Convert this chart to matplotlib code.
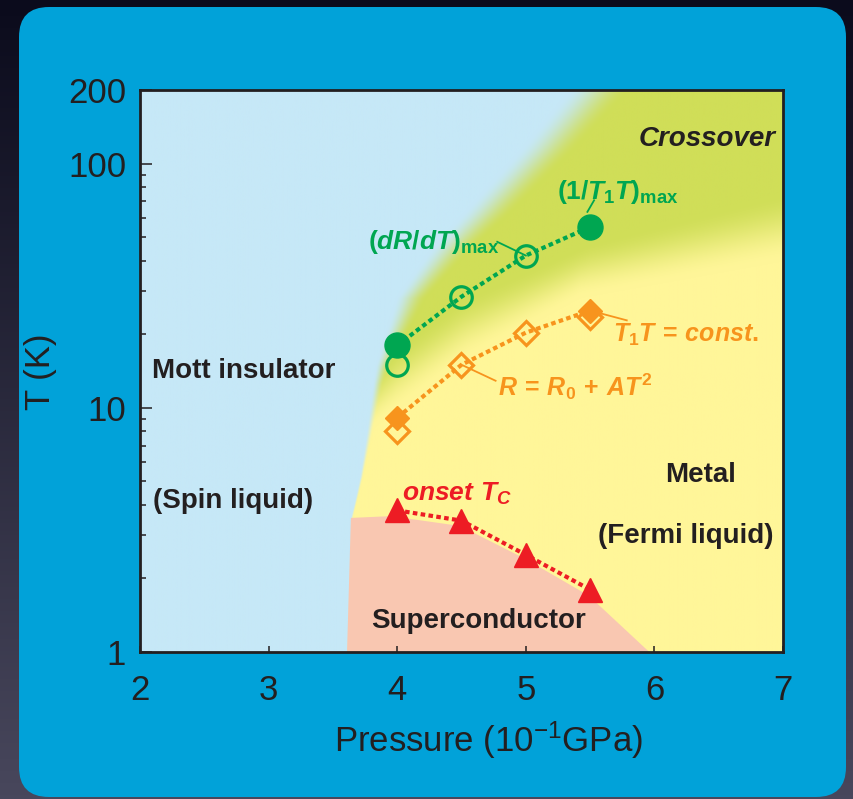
import numpy as np
import matplotlib
matplotlib.use("Agg")
import matplotlib.pyplot as plt
from matplotlib.patches import FancyBboxPatch
from matplotlib.colors import to_rgb
from matplotlib.ticker import FixedLocator, NullFormatter

plt.rcParams['font.family'] = ['Liberation Sans', 'DejaVu Sans']
plt.rcParams['mathtext.fontset'] = 'custom'
plt.rcParams['mathtext.rm'] = 'Liberation Sans:bold'
plt.rcParams['mathtext.it'] = 'Liberation Sans:italic:bold'
plt.rcParams['mathtext.bf'] = 'Liberation Sans:bold'

# measured points (pressure in 10^-1 GPa, T in K)
p_nmr = [4.0, 5.5]            # (1/T1T)max, filled circles
T_nmr = [18, 55]
p_dRdT = [4.0, 4.5, 5.0]      # (dR/dT)max, open circles
T_dRdT = [15, 28.5, 42]
p_t1t = [4.0, 5.5]            # T1T = const., filled diamonds
T_t1t = [9.1, 25]
p_fl = [4.0, 4.5, 5.0, 5.5]   # R = R0 + AT^2, open diamonds
T_fl = [8.0, 15, 20.3, 23.6]
p_tc = [4.0, 4.5, 5.0, 5.5]   # onset Tc
T_tc = [3.8, 3.45, 2.5, 1.8]

# phase boundaries
mott_logT = [0.0, 0.55, 0.71, 1.17, 1.31, 1.45, 1.65, 2.06, 2.31]
mott_p = [3.61, 3.64, 3.71, 3.83, 3.91, 3.99, 4.26, 4.96, 5.35]
metal_p = [3.6, 3.77, 4.55, 5.43, 7.0]
metal_logT = [0.75, 0.90, 1.20, 1.45, 1.60]
cross_p = [3.6, 4.0, 4.5, 5.5, 7.0]
cross_logT = [1.0, 1.25, 1.45, 1.68, 1.88]
sc_p = [3.61, 3.64, 3.95, 4.49, 5.0, 5.49, 5.96]
sc_T = [1.0, 3.54, 3.6, 3.28, 2.4, 1.70, 1.0]

green = '#00a651'
orange = '#f7941d'
red = '#ed1c24'
dark = '#231f20'

fig = plt.figure(figsize=(8.54, 7.99), dpi=100)

# dark backdrop + blue rounded panel, in pixel units
bg = fig.add_axes([0, 0, 1, 1], zorder=-10)
grad = np.linspace(0, 1, 200)[:, None] * np.ones((1, 2))
top_c, bot_c = np.array(to_rgb('#0b0b1c')), np.array(to_rgb('#48475c'))
bg.imshow(top_c + grad[..., None] * (bot_c - top_c), extent=[0, 854, 799, 0], aspect='auto')
bg.add_patch(FancyBboxPatch((19, 7), 827, 790, boxstyle='round,pad=0,rounding_size=30',
                            facecolor='#01a2d9', edgecolor='none'))
bg.set_xlim(0, 854)
bg.set_ylim(799, 0)
bg.axis('off')

pos = [140 / 854, 1 - 652 / 799, 643 / 854, 562 / 799]

# phase colour field
ph = fig.add_axes(pos, zorder=-5)
vmax = np.log10(200)
u = np.linspace(2, 7, 700)
v = np.linspace(0, vmax, 560)
U, V = np.meshgrid(u, v)


def smooth(t):
    t = np.clip(t, 0, 1)
    return t * t * (3 - 2 * t)


xb = np.interp(V, mott_logT, mott_p)
w = np.interp(V, [0, 0.7, 1.1, 1.4, 1.8, 2.31], [0.01, 0.02, 0.08, 0.22, 0.38, 0.48])
a = smooth((U - xb) / w)[..., None]
y0 = np.interp(U, metal_p, metal_logT)
y1 = np.interp(U, cross_p, cross_logT)
g = smooth((V - y0) / (y1 - y0))[..., None]
blue_c = np.array(to_rgb('#c6e8f7'))
yel_c = np.array(to_rgb('#fff699'))
grn_c = np.array(to_rgb('#d0de58'))
img = blue_c * (1 - a) + a * (yel_c * (1 - g) + grn_c * g)
ph.imshow(img, extent=[2, 7, 0, vmax], origin='lower', aspect='auto')
ph.set_xlim(2, 7)
ph.set_ylim(0, vmax)
ph.axis('off')

ax = fig.add_axes(pos, zorder=0)
ax.set_facecolor('none')
ax.set_yscale('log')
ax.set_xlim(2, 7)
ax.set_ylim(1, 200)

ax.fill(sc_p, sc_T, color='#f9c7b1', lw=0, zorder=1)

dots = (0, (1.1, 0.8))
# crossover line: filled nmr ends, dR/dT in the middle
ax.plot([p_nmr[0]] + p_dRdT[1:] + [p_nmr[1]], [T_nmr[0]] + T_dRdT[1:] + [T_nmr[1]],
        color=green, lw=3, ls=dots, zorder=3)
ax.plot([p_t1t[0]] + p_fl[1:3] + [p_t1t[1]], [T_t1t[0]] + T_fl[1:3] + [T_t1t[1]],
        color=orange, lw=3, ls=dots, zorder=3)
ax.plot(p_tc, T_tc, color=red, lw=3, ls=dots, zorder=3)

# leader lines
ax.plot([4.778, p_dRdT[2]], [47.8, T_dRdT[2]], color=green, lw=1.3, zorder=2.5)
ax.plot([5.531, 5.479], [70.7, 63.4], color=green, lw=1.3, zorder=2.5)
ax.plot([p_t1t[1], 5.785], [T_t1t[1], 22.8], color=orange, lw=1.3, zorder=2.5)
ax.plot([p_fl[1], 4.765], [T_fl[1], 12.9], color=orange, lw=1.3, zorder=2.5)

ax.plot(p_dRdT, T_dRdT, 'o', ms=15.5, mfc='none', mec=green, mew=2.3, ls='none', zorder=4)
ax.plot(p_nmr, T_nmr, 'o', ms=18, color=green, ls='none', zorder=5)
ax.plot(p_fl, T_fl, 'D', ms=12, mfc='none', mec=orange, mew=2.3, ls='none', zorder=4)
ax.plot(p_t1t, T_t1t, 'D', ms=12.5, color=orange, ls='none', zorder=5)
ax.plot(p_tc, T_tc, '^', ms=17, color=red, ls='none', zorder=5)

# region labels
kw = dict(fontsize=20, fontweight='bold', color=dark, zorder=6)
ax.text(2.093, 14.2, 'Mott insulator', ha='left', va='center', **kw)
ax.text(2.10, 4.16, '(Spin liquid)', ha='left', va='center', **kw)
ax.text(6.36, 5.31, 'Metal', ha='center', va='center', **kw)
ax.text(6.245, 2.99, '(Fermi liquid)', ha='center', va='center', **kw)
ax.text(4.632, 1.34, 'Superconductor', ha='center', va='center', **kw)
ax.text(6.945, 126, 'Crossover', ha='right', va='center', style='italic', **kw)

ax.text(3.776, 44.8, r'$\mathit{(dR/dT)}_{\mathrm{max}}$', color=green, fontsize=19,
        ha='left', va='baseline', zorder=6)
ax.text(5.24, 71.9, r'$\mathit{(1/T_1T)}_{\mathrm{max}}$', color=green, fontsize=19,
        ha='left', va='baseline', zorder=6)
ax.text(5.676, 18.6, r'$\mathit{T_1T\,=\,const.}$', color=orange, fontsize=18,
        ha='left', va='baseline', zorder=6)
ax.text(4.78, 11.2, r'$\mathit{R\,=\,R_0\,+\,AT^2}$', color=orange, fontsize=18,
        ha='left', va='baseline', zorder=6)
ax.text(4.04, 4.16, r'$\mathit{onset\ T_C}$', color=red, fontsize=19,
        ha='left', va='baseline', zorder=6)

# axes styling
ax.set_xticks([2, 3, 4, 5, 6, 7])
ax.set_yticks([1, 10, 100, 200])
ax.set_yticklabels(['1', '10', '100', '200'])
ax.yaxis.set_minor_locator(FixedLocator(list(range(2, 10)) + list(range(20, 100, 10))))
ax.yaxis.set_minor_formatter(NullFormatter())
ax.tick_params(axis='both', which='both', direction='in', colors=dark, labelsize=25, width=1.1)
ax.tick_params(axis='y', which='major', length=8.5, pad=10)
ax.tick_params(axis='y', which='minor', length=4)
ax.tick_params(axis='x', which='major', length=4, pad=16)
for s in ax.spines.values():
    s.set_linewidth(2)
    s.set_color(dark)

fig.text(488 / 854, 1 - 740 / 799, r'Pressure (10$^{\mathregular{-1}}$GPa)', fontsize=25,
         color=dark, ha='center', va='center')
fig.text(41 / 854, 1 - 372 / 799, 'T (K)', fontsize=25, color=dark, rotation=90,
         ha='center', va='center')

fig.savefig('out.png', dpi=100)
